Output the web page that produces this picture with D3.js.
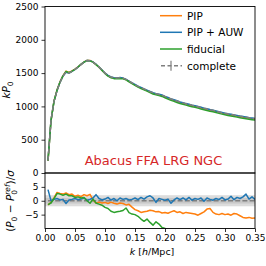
<!DOCTYPE html>
<html><head><meta charset="utf-8">
<script src="https://cdn.jsdelivr.net/npm/d3@7"></script>
<style>body{margin:0;background:#fff}svg{display:block}text{font-family:"DejaVu Sans",sans-serif}</style>
</head><body><svg id="c" width="266" height="266"></svg>
<script>
const kValues = [0.005,0.010,0.015,0.020,0.025,0.030,0.035,0.040,0.045,0.050,
0.055,0.060,0.065,0.070,0.075,0.080,0.085,0.090,0.095,0.100,
0.105,0.110,0.115,0.120,0.125,0.130,0.135,0.140,0.145,0.150,
0.155,0.160,0.165,0.170,0.175,0.180,0.185,0.190,0.195,0.200,
0.205,0.210,0.215,0.220,0.225,0.230,0.235,0.240,0.245,0.250,
0.255,0.260,0.265,0.270,0.275,0.280,0.285,0.290,0.295,0.300,
0.305,0.310,0.315,0.320,0.325,0.330,0.335,0.340,0.345,0.350];

// kP0 main panel
const completeP = [184,790,1075,1235,1360,1455,1515,1500,1525,1555,
1590,1628,1663,1688,1686,1664,1630,1590,1545,1500,
1462,1440,1428,1427,1430,1424,1405,1380,1352,1326,
1302,1282,1263,1242,1222,1204,1191,1180,1169,1150,
1131,1112,1098,1081,1066,1053,1041,1029,1018,1008,
996,983,972,961,950,941,929,917,906,896,
887,879,871,861,852,844,836,829,822,816];
const pipP = [182,788,1078,1245,1368,1462,1530,1510,1532,1560,
1594,1631,1667,1691,1690,1665,1629,1589,1543,1498,
1460,1438,1426,1425,1428,1422,1402,1377,1348,1321,
1296,1276,1257,1236,1216,1198,1185,1174,1162,1143,
1124,1106,1092,1074,1059,1046,1034,1022,1011,1001,
989,977,966,955,944,934,922,910,899,889,
880,872,864,854,845,836,828,821,814,808];
const auwP = [192,790,1076,1237,1361,1456,1513,1501,1526,1557,
1591,1630,1666,1689,1687,1666,1634,1592,1546,1502,
1465,1441,1430,1427,1433,1425,1407,1381,1353,1329,
1303,1285,1264,1245,1226,1206,1190,1182,1171,1151,
1133,1110,1099,1084,1067,1056,1042,1032,1019,1011,
998,986,972,964,952,942,932,919,909,897,
889,883,873,864,855,848,842,831,826,817];
const fidP = [182,788,1077,1243,1366,1459,1524,1506,1528,1557,
1592,1630,1665,1688,1684,1665,1628,1587,1541,1493,
1454,1430,1417,1416,1420,1415,1398,1370,1341,1315,
1290,1268,1248,1229,1207,1187,1176,1163,1150,1130,
1110,1090,1076,1059,1044,1031,1019,1007,996,986,
974,961,950,939,928,919,907,895,884,874,
865,857,849,839,830,822,814,807,800,794];

// (P0 - P0ref)/sigma residual panel
const pipDev = [-1.5,-0.6,1.0,3.0,2.6,2.4,2.8,2.2,2.4,1.6,
2.0,1.5,2.2,1.8,2.3,0.3,-0.8,-0.5,-0.8,-0.6,
-1.0,-0.5,-0.9,-1.2,-0.8,-1.0,-1.5,-1.3,-2.3,-3.2,
-3.6,-4.2,-4.0,-3.8,-3.4,-3.6,-4.0,-3.9,-4.4,-4.2,
-4.5,-4.0,-3.6,-4.2,-4.0,-4.6,-4.2,-4.4,-4.6,-4.8,
-5.2,-4.6,-4.0,-3.0,-2.8,-4.2,-4.8,-5.0,-4.6,-5.0,
-4.8,-5.2,-4.6,-4.8,-5.4,-6.0,-6.2,-6.0,-6.3,-6.2];
const auwDev = [4.0,0.0,0.5,0.8,0.3,0.5,-1.0,0.3,0.5,0.8,
0.4,0.6,1.0,0.2,0.5,1.0,2.2,0.8,0.3,0.6,
1.2,0.2,0.8,0.0,1.0,0.5,0.8,0.3,0.5,1.0,
0.4,1.2,0.6,1.4,1.8,1.0,-0.6,0.8,0.5,0.2,
0.6,-0.9,0.3,1.0,0.4,1.0,0.3,1.2,0.2,0.8,
0.5,1.0,-0.2,1.0,0.5,0.2,0.8,0.4,1.2,0.3,
0.6,1.6,0.4,1.2,0.8,1.4,2.4,0.6,1.4,0.5];
const fidDev = [-1.4,-0.8,0.8,2.6,2.4,2.0,2.4,1.8,1.8,1.2,
1.4,1.0,1.2,0.0,-0.9,0.6,-0.8,-1.2,-1.6,-2.4,
-2.8,-3.8,-4.2,-4.0,-3.8,-3.5,-2.6,-4.3,-4.8,-5.0,
-5.6,-6.6,-7.4,-6.6,-7.8,-8.8,-7.6,-8.4,-9.6,-10.0,
-10.4,-11.0,null,null,null,null,null,null,null,null,
null,null,null,null,null,null,null,null,null,null,
null,null,null,null,null,null,null,null,null,null];
const completeDev = kValues.map(() => 0);

const xTicks = [0,0.05,0.10,0.15,0.20,0.25,0.30,0.35];
const mainYTicks = [0,500,1000,1500,2000,2500];
const resYTicks = [-5,0,5];
const seriesNames = ["PIP","PIP + AUW","fiducial","complete"];
const seriesColors = ["#ff7f0e","#1f77b4","#2ca02c","#7f7f7f"];
const bandOuter = [-2,2], bandInner = [-1,1];
const annotation = "Abacus FFA LRG NGC";

const svg = d3.select("#c");
svg.append("rect").attr("width",266).attr("height",266).attr("fill","#fff");
const L=45,R=255,T=6.5,M=173,B=228.5;
const x = d3.scaleLinear([0,0.35],[L,R]);
const yM = d3.scaleLinear([0,2500],[M,T]);
const yR = d3.scaleLinear([-10,10],[B,M]);

const defs = svg.append("defs");
defs.append("clipPath").attr("id","cm").append("rect").attr("x",L).attr("y",T).attr("width",R-L).attr("height",M-T);
defs.append("clipPath").attr("id","cr").append("rect").attr("x",L).attr("y",M).attr("width",R-L).attr("height",B-M);

// main panel lines
const gm = svg.append("g").attr("clip-path","url(#cm)");
const lineM = d3.line().x((d,i)=>x(kValues[i])).y(d=>yM(d));
[pipP,auwP,fidP].forEach((arr,i)=>{
  gm.append("path").attr("d",lineM(arr)).attr("fill","none").attr("stroke",seriesColors[i]).attr("stroke-width",1.5).attr("stroke-linejoin","round");
});
gm.append("path").attr("d",lineM(completeP)).attr("fill","none").attr("stroke",seriesColors[3]).attr("stroke-width",1.5).attr("stroke-dasharray","5,2.2");

// residual panel
const gr = svg.append("g").attr("clip-path","url(#cr)");
gr.append("rect").attr("x",L).attr("width",R-L).attr("y",yR(bandOuter[1])).attr("height",yR(bandOuter[0])-yR(bandOuter[1])).attr("fill","#dcdcdc");
gr.append("rect").attr("x",L).attr("width",R-L).attr("y",yR(bandInner[1])).attr("height",yR(bandInner[0])-yR(bandInner[1])).attr("fill","#c8c8c8");
const lineR = d3.line().defined(d=>d!==null).x((d,i)=>x(kValues[i])).y(d=>yR(d));
gr.append("path").attr("d",lineR(completeDev)).attr("fill","none").attr("stroke",seriesColors[3]).attr("stroke-width",1.5).attr("stroke-dasharray","5,2.2");
[pipDev,auwDev,fidDev].forEach((arr,i)=>{
  gr.append("path").attr("d",lineR(arr)).attr("fill","none").attr("stroke",seriesColors[i]).attr("stroke-width",1.5).attr("stroke-linejoin","round");
});

// frames
[[T,M],[M,B]].forEach(([a,b])=>{
  svg.append("rect").attr("x",L).attr("y",a).attr("width",R-L).attr("height",b-a).attr("fill","none").attr("stroke","#000").attr("stroke-width",0.9);
});

function styleAxis(g){
  g.select(".domain").remove();
  g.selectAll(".tick line").attr("stroke","#000").attr("stroke-width",0.8);
  g.selectAll(".tick text").attr("font-family","DejaVu Sans").attr("font-size",9).attr("fill","#000");
}
const minus = d=> (d<0?"\u2212":"")+Math.abs(d);
svg.append("g").attr("transform",`translate(${L},0)`).call(d3.axisLeft(yM).tickValues(mainYTicks).tickFormat(d3.format("d")).tickSize(3.5).tickPadding(3)).call(styleAxis);
svg.append("g").attr("transform",`translate(${L},0)`).call(d3.axisLeft(yR).tickValues(resYTicks).tickFormat(minus).tickSize(3.5).tickPadding(3)).call(styleAxis);
svg.append("g").attr("transform",`translate(0,${B})`).call(d3.axisBottom(x).tickValues(xTicks).tickFormat(d3.format(".2f")).tickSize(3.5).tickPadding(3)).call(styleAxis);

// annotation
svg.append("text").attr("x",153.5).attr("y",164.5).attr("text-anchor","middle").attr("font-size",13).attr("fill","#d62728").text(annotation);

// axis labels
const xl = svg.append("text").attr("x",152).attr("y",255).attr("text-anchor","middle").attr("font-size",9.5);
xl.append("tspan").attr("font-style","italic").text("k");
xl.append("tspan").text(" [");
xl.append("tspan").attr("font-style","italic").text("h");
xl.append("tspan").text("/Mpc]");

const yl = svg.append("text").attr("transform","translate(10,90) rotate(-90)").attr("text-anchor","middle").attr("font-size",10.5);
yl.append("tspan").attr("font-style","italic").text("kP");
yl.append("tspan").attr("font-size",7.5).attr("dy",2.5).text("0");

const yl2 = svg.append("text").attr("transform","translate(14,201) rotate(-90)").attr("text-anchor","middle").attr("font-size",10.5);
yl2.append("tspan").text("(");
yl2.append("tspan").attr("font-style","italic").text("P");
yl2.append("tspan").attr("font-size",7.5).attr("dy",2.5).text("0");
yl2.append("tspan").attr("dy",-2.5).text(" \u2212 ");
yl2.append("tspan").attr("font-style","italic").text("P");
yl2.append("tspan").attr("font-size",7.5).attr("dy",2.5).text("0");
yl2.append("tspan").attr("font-size",7.5).attr("font-style","italic").attr("dx",-4.8).attr("dy",-6.5).text("ref");
yl2.append("tspan").attr("dy",4).text(")/");
yl2.append("tspan").attr("font-style","italic").text("\u03c3");

// legend
const lg = svg.append("g");
const rowsY = [15.7,32.3,49,65.7];
seriesNames.forEach((name,i)=>{
  const y = rowsY[i];
  const ln = lg.append("line").attr("x1",160).attr("x2",182).attr("y1",y).attr("y2",y).attr("stroke",seriesColors[i]).attr("stroke-width",1.5);
  if(i===3){
    ln.attr("stroke-dasharray","4,2.5").attr("stroke-dashoffset",-1);
    lg.append("line").attr("x1",171).attr("x2",171).attr("y1",y-5).attr("y2",y+5).attr("stroke",seriesColors[i]).attr("stroke-width",1.2);
  }
  lg.append("text").attr("x",187).attr("y",y+3.8).attr("font-size",10.5).text(name);
});
</script></body></html>
